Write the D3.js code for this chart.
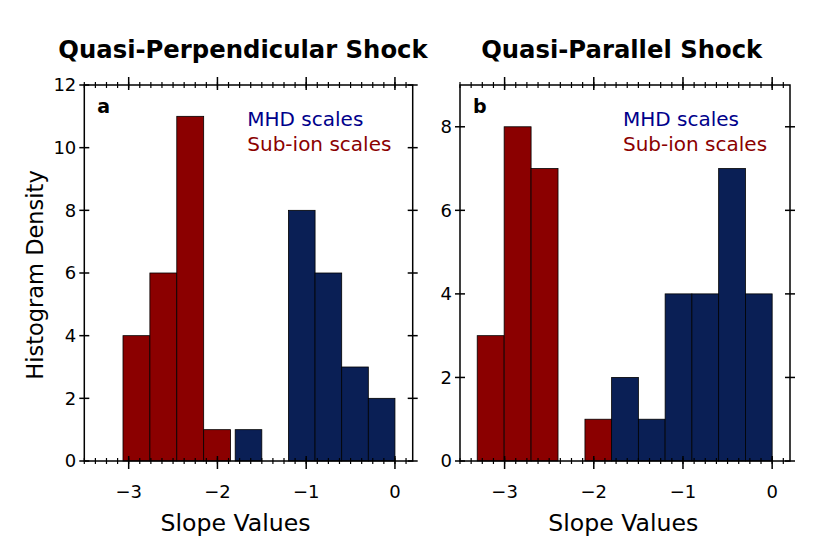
<!DOCTYPE html>
<meta charset="utf-8">
<script src="https://d3js.org/d3.v7.min.js"></script>
<style>
body { margin: 0; background: #fff; }
text { font-family: "DejaVu Sans", sans-serif; }
</style>
<svg width="830" height="555"></svg>
<script>
// histogram bins (bin edges + counts)
const redEdgesA = [-3.064, -2.761, -2.458, -2.155, -1.852]
const redCountsA = [4, 6, 11, 1]
const blueEdgesA = [-1.8, -1.5, -1.2, -0.9, -0.6, -0.3, 0]
const blueCountsA = [1, 0, 8, 6, 3, 2]

const redEdgesB = [-3.307, -3.005, -2.703, -2.401, -2.099, -1.797]
const redCountsB = [3, 8, 7, 0, 1]
const blueEdgesB = [-1.8, -1.5, -1.2, -0.9, -0.6, -0.3, 0]
const blueCountsB = [2, 1, 4, 4, 7, 4]

const xTicks = [-3, -2, -1, 0]
const yTicksA = [0, 2, 4, 6, 8, 10, 12]
const yTicksB = [0, 2, 4, 6, 8]

const RED = "#8b0000", BLUE = "#0a1f55"

let svg = d3.select("svg")

function toBins(edges, counts) {
    return counts.map((c, i) => ({x0: edges[i], x1: edges[i + 1], n: c}))
}

function panel(opt) {
    let x = d3.scaleLinear().domain([-3.5, 0.2]).range([opt.left, opt.right])
    let y = d3.scaleLinear().domain([0, opt.ymax]).range([461, 85])
    let g = svg.append("g")

    let bins = toBins(opt.redEdges, opt.redCounts).map(d => Object.assign(d, {c: RED}))
        .concat(toBins(opt.blueEdges, opt.blueCounts).map(d => Object.assign(d, {c: BLUE})))
        .filter(d => d.n > 0)

    g.selectAll("rect.bar").data(bins).enter().append("rect")
        .attr("class", "bar")
        .attr("x", d => x(d.x0))
        .attr("width", d => x(d.x1) - x(d.x0))
        .attr("y", d => y(d.n))
        .attr("height", d => y(0) - y(d.n))
        .attr("fill", d => d.c)
        .attr("stroke", "#000")
        .attr("stroke-width", 0.8)

    // frame
    g.append("rect")
        .attr("x", opt.left).attr("y", 85)
        .attr("width", opt.right - opt.left).attr("height", 461 - 85)
        .attr("fill", "none").attr("stroke", "#000").attr("stroke-width", 1.5)

    // x ticks, bottom and top, crossing the frame
    let minor = d3.range(-3.5, 0.2 + 1e-9, 0.125)
    for (let [yy, dir] of [[461, 1], [85, -1]]) {
        g.selectAll(null).data(minor).enter().append("line")
            .attr("x1", d => x(d)).attr("x2", d => x(d))
            .attr("y1", yy - 3 * dir).attr("y2", yy + 3 * dir)
            .attr("stroke", "#000").attr("stroke-width", 1.2)
        g.selectAll(null).data(xTicks).enter().append("line")
            .attr("x1", d => x(d)).attr("x2", d => x(d))
            .attr("y1", yy - 5 * dir).attr("y2", yy + 8 * dir)
            .attr("stroke", "#000").attr("stroke-width", 1.5)
    }
    g.selectAll(null).data(xTicks).enter().append("text")
        .attr("x", d => x(d)).attr("y", 498)
        .attr("text-anchor", "middle").attr("font-size", 18)
        .text(d => d === 0 ? "0" : "\u2212" + Math.abs(d))

    // y ticks both sides
    for (let [xx, dir] of [[opt.left, -1], [opt.right, 1]]) {
        g.selectAll(null).data(opt.yTicks).enter().append("line")
            .attr("y1", d => y(d)).attr("y2", d => y(d))
            .attr("x1", xx - 5 * dir).attr("x2", xx + 5 * dir)
            .attr("stroke", "#000").attr("stroke-width", 1.5)
    }
    g.selectAll(null).data(opt.yTicks).enter().append("text")
        .attr("x", opt.left - 8).attr("y", d => y(d)).attr("dy", "0.36em")
        .attr("text-anchor", "end").attr("font-size", 18)
        .text(d => d)

    g.append("text")
        .attr("x", (opt.left + opt.right) / 2 + opt.titleShift).attr("y", 58)
        .attr("text-anchor", "middle").attr("font-size", 24.3).attr("font-weight", "bold")
        .text(opt.title)

    g.append("text")
        .attr("x", opt.left + 13).attr("y", 113)
        .attr("font-size", 19).attr("font-weight", "bold")
        .text(opt.tag)

    g.append("text")
        .attr("x", opt.left + 163).attr("y", 126)
        .attr("font-size", 20).attr("fill", "#00008b")
        .text("MHD scales")
    g.append("text")
        .attr("x", opt.left + 163).attr("y", 151)
        .attr("font-size", 20).attr("fill", RED)
        .text("Sub-ion scales")

    g.append("text")
        .attr("x", (opt.left + opt.right) / 2 + opt.labelShift).attr("y", 531)
        .attr("text-anchor", "middle").attr("font-size", 23.6)
        .text("Slope Values")
}

panel({left: 84.3, right: 412.7, ymax: 12, yTicks: yTicksA, tag: "a",
    title: "Quasi-Perpendicular Shock", titleShift: -5.5, labelShift: -13,
    redEdges: redEdgesA, redCounts: redCountsA, blueEdges: blueEdgesA, blueCounts: blueCountsA})

panel({left: 460, right: 790, ymax: 9, yTicks: yTicksB, tag: "b",
    title: "Quasi-Parallel Shock", titleShift: -3.3, labelShift: -1.7,
    redEdges: redEdgesB, redCounts: redCountsB, blueEdges: blueEdgesB, blueCounts: blueCountsB})

svg.append("text")
    .attr("transform", "translate(43,275) rotate(-90)")
    .attr("text-anchor", "middle").attr("font-size", 22.5)
    .text("Histogram Density")
</script>
